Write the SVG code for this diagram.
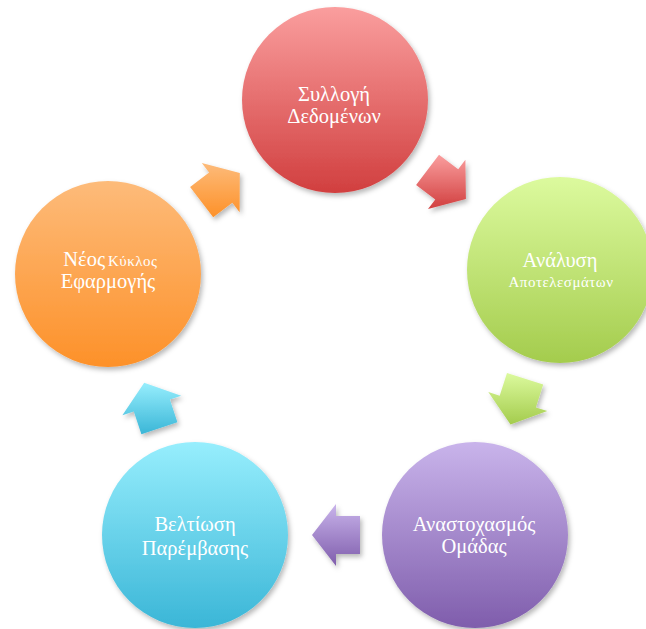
<svg xmlns="http://www.w3.org/2000/svg" width="646" height="629" viewBox="0 0 646 629">
  <defs>
    <style>
      .lbl { font-family: "Liberation Serif", "DejaVu Serif", serif; fill: #ffffff; text-anchor: middle; }
      .big { font-size: 20.5px; }
      .small { font-size: 15px; letter-spacing: 0.5px; }
      .shape { filter: url(#shadow); }
    </style>
    <filter id="shadow" x="-20%" y="-20%" width="140%" height="140%">
      <feDropShadow dx="2" dy="3" stdDeviation="2.5" flood-color="#000000" flood-opacity="0.28"/>
    </filter>
    <linearGradient id="gRed" x1="0" y1="0" x2="0" y2="1">
      <stop offset="0" stop-color="#FA9E9E"/>
      <stop offset="1" stop-color="#D13F3F"/>
    </linearGradient>
    <linearGradient id="gGreen" x1="0" y1="0" x2="0" y2="1">
      <stop offset="0" stop-color="#DCFA9E"/>
      <stop offset="1" stop-color="#A4CC4D"/>
    </linearGradient>
    <linearGradient id="gPurple" x1="0" y1="0" x2="0" y2="1">
      <stop offset="0" stop-color="#C9B4EB"/>
      <stop offset="1" stop-color="#7F5DAC"/>
    </linearGradient>
    <linearGradient id="gBlue" x1="0" y1="0" x2="0" y2="1">
      <stop offset="0" stop-color="#97EEFD"/>
      <stop offset="1" stop-color="#3AB6D7"/>
    </linearGradient>
    <linearGradient id="gOrange" x1="0" y1="0" x2="0" y2="1">
      <stop offset="0" stop-color="#FDBB7A"/>
      <stop offset="1" stop-color="#FD9129"/>
    </linearGradient>
  </defs>

  <!-- block arrows between consecutive stages -->
  <g id="connectors">
    <polygon class="shape" fill="url(#gRed)" points="439.0,154.8 458.2,169.2 465.4,159.7 465.9,198.9 428.0,209.1 435.3,199.6 416.1,185.1"/>
    <polygon class="shape" fill="url(#gGreen)" points="543.2,384.5 535.9,407.4 547.3,411.0 510.5,424.4 488.3,392.1 499.7,395.8 507.0,372.9"/>
    <polygon class="shape" fill="url(#gPurple)" points="360,554 336,554 336,566 312,535 336,504 336,516 360,516"/>
    <polygon class="shape" fill="url(#gBlue)" points="141.4,434.2 133.8,411.5 122.4,415.3 144.2,382.7 181.2,395.7 169.9,399.4 177.4,422.2"/>
    <polygon class="shape" fill="url(#gOrange)" points="190.1,187.1 209.1,172.5 201.8,163.0 239.8,173.0 239.6,212.2 232.3,202.7 213.2,217.3"/>
  </g>

  <g id="collect">
    <circle class="shape" cx="335" cy="100" r="93" fill="url(#gRed)"/>
    <text class="lbl big" x="334" y="101">Συλλογή</text>
    <text class="lbl big" x="334" y="123">Δεδομένων</text>
  </g>

  <g id="analysis">
    <circle class="shape" cx="560" cy="270" r="93" fill="url(#gGreen)"/>
    <text class="lbl big" x="560" y="267">Ανάλυση</text>
    <text class="lbl small" x="561" y="287">Αποτελεσμάτων</text>
  </g>

  <g id="reflection">
    <circle class="shape" cx="475" cy="535" r="93" fill="url(#gPurple)"/>
    <text class="lbl big" x="474" y="531">Αναστοχασμός</text>
    <text class="lbl big" x="474" y="553">Ομάδας</text>
  </g>

  <g id="improvement">
    <circle class="shape" cx="195" cy="535" r="93" fill="url(#gBlue)"/>
    <text class="lbl big" x="195" y="531">Βελτίωση</text>
    <text class="lbl big" x="195" y="555">Παρέμβασης</text>
  </g>

  <g id="new-cycle">
    <circle class="shape" cx="108" cy="274" r="93" fill="url(#gOrange)"/>
    <text class="lbl big" x="105" y="266" style="text-anchor:end">Νέος</text>
    <text class="lbl small" x="108" y="266" style="text-anchor:start">Κύκλος</text>
    <text class="lbl big" x="108" y="288">Εφαρμογής</text>
  </g>
</svg>
